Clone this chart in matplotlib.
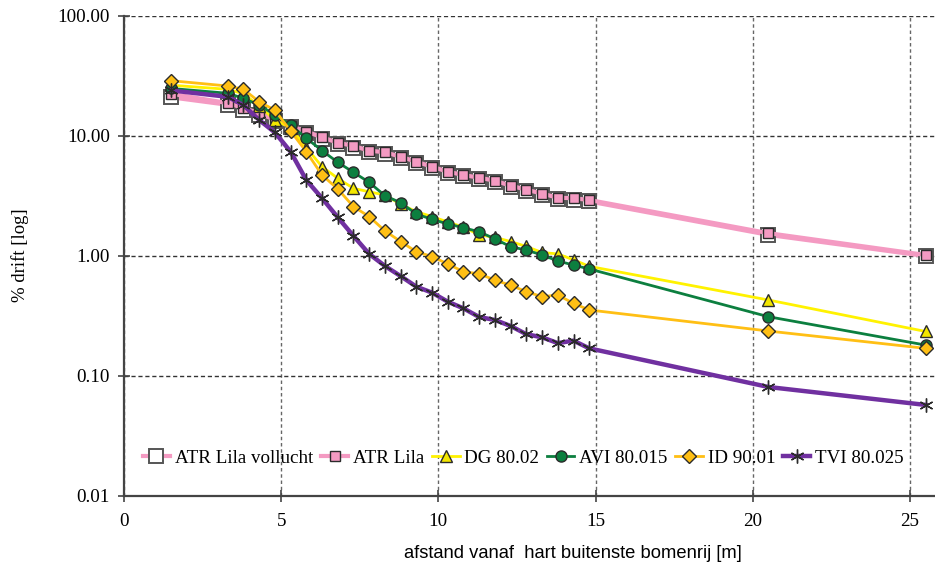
import matplotlib
matplotlib.use('Agg')
import matplotlib.pyplot as plt
from matplotlib.ticker import FixedLocator, FuncFormatter

# afstand tot hart buitenste bomenrij [m]
afstand = [1.5, 3.3, 3.8, 4.3, 4.8, 5.3, 5.8, 6.3, 6.8, 7.3, 7.8, 8.3, 8.8, 9.3,
           9.8, 10.3, 10.8, 11.3, 11.8, 12.3, 12.8, 13.3, 13.8, 14.3, 14.8, 20.5, 25.5]

# % drift per techniek
atr_vollucht = [21.0, 18.2, 16.6, 15.0, 13.3, 11.8, 10.6, 9.5, 8.6, 8.0, 7.4, 7.1,
                6.5, 6.0, 5.4, 4.95, 4.6, 4.35, 4.1, 3.75, 3.5, 3.22, 2.98, 2.95, 2.85, 1.50, 1.00]
atr_lila = [22.5, 18.8, 17.1, 15.5, 13.6, 12.1, 10.9, 9.75, 8.8, 8.26, 7.55, 7.32,
            6.72, 6.1, 5.55, 5.04, 4.73, 4.49, 4.24, 3.85, 3.57, 3.31, 3.06, 3.03, 2.93, 1.55, 1.02]
dg = [26.5, 24.5, 22.5, 17.8, 13.6, 11.7, 8.0, 5.55, 4.44, 3.66, 3.43, 3.22,
      2.70, 2.34, 2.13, 1.92, 1.74, 1.50, 1.43, 1.32, 1.20, 1.07, 1.04, 0.93, 0.82, 0.43, 0.235]
avi = [24.9, 22.7, 20.6, 18.1, 15.0, 12.3, 9.6, 7.55, 6.04, 4.98, 4.11, 3.18,
       2.78, 2.24, 2.02, 1.85, 1.72, 1.59, 1.39, 1.195, 1.12, 1.02, 0.91, 0.84, 0.78, 0.312, 0.181]
id_ = [28.9, 26.1, 24.5, 19.3, 16.4, 11.0, 7.4, 4.73, 3.62, 2.58, 2.13, 1.62,
       1.32, 1.085, 0.99, 0.858, 0.74, 0.71, 0.63, 0.57, 0.505, 0.458, 0.473, 0.403, 0.355, 0.237, 0.17]
tvi = [24.0, 21.2, 18.1, 13.6, 10.7, 7.4, 4.29, 3.03, 2.1, 1.47, 1.04, 0.826,
       0.68, 0.555, 0.495, 0.416, 0.366, 0.31, 0.293, 0.261, 0.223, 0.21, 0.188, 0.197, 0.17, 0.081, 0.0574]

y_ticks = [0.01, 0.1, 1, 10, 100]
x_ticks = [0, 5, 10, 15, 20, 25]

serif = ['Liberation Serif', 'DejaVu Serif']
edge = '#2b2b2b'

fig = plt.figure(figsize=(9.35, 5.7), dpi=100)
ax = fig.add_axes([124 / 935, 74 / 570, 811 / 935, 480 / 570])

ax.plot(afstand, atr_vollucht, color='#f49ac2', lw=3, marker='s', ms=10,
        mfc='white', mec='#555555', mew=1.4, label='ATR Lila vollucht', clip_on=False, zorder=3)
ax.plot(afstand, atr_lila, color='#f49ac2', lw=3, marker='s', ms=7,
        mfc='#f49ac2', mec=edge, mew=1.0, label='ATR Lila', clip_on=False, zorder=4)
ax.plot(afstand, dg, color='#fff200', lw=2, marker='^', ms=8.5,
        mfc='#f3e600', mec=edge, mew=1.0, label='DG 80.02', clip_on=False, zorder=5)
ax.plot(afstand, avi, color='#0c7f3f', lw=2, marker='o', ms=8,
        mfc='#0c7f3f', mec=edge, mew=1.0, label='AVI 80.015', clip_on=False, zorder=6)
ax.plot(afstand, id_, color='#ffbf14', lw=2, marker='D', ms=7.5,
        mfc='#ffbf14', mec=edge, mew=1.0, label='ID 90.01', clip_on=False, zorder=7)
ax.plot(afstand, tvi, color='#7030a0', lw=3.2, marker=(6, 2, 0), ms=10,
        mfc=edge, mec=edge, mew=1.0, label='TVI 80.025', clip_on=False, zorder=8)

ax.set_yscale('log')
ax.set_ylim(0.01, 100)
ax.set_xlim(0, 25.8)
ax.yaxis.set_major_locator(FixedLocator(y_ticks))
ax.yaxis.set_minor_locator(FixedLocator([]))
ax.yaxis.set_major_formatter(FuncFormatter(lambda v, p: f'{v:.2f}'))
ax.set_xticks(x_ticks)

ax.grid(axis='y', color='#333333', ls=(0, (3, 2)), lw=1.0)
ax.grid(axis='x', color='#666666', ls=(0, (2.5, 2)), lw=1.0)
ax.set_axisbelow(True)

for side in ['top', 'right']:
    ax.spines[side].set_visible(False)
ax.spines['left'].set_color('#444444')
ax.spines['left'].set_linewidth(1.6)
ax.spines['bottom'].set_color('#444444')
ax.spines['bottom'].set_linewidth(1.6)

ax.tick_params(direction='inout', length=8, width=1.2, color='#444444',
               labelsize=13.8, pad=6)
ax.tick_params(axis='x', pad=8)
for lab in ax.get_xticklabels() + ax.get_yticklabels():
    lab.set_family(serif)

leg = ax.legend(loc='center left', bbox_to_anchor=(0.023, 0.079), ncol=6,
                frameon=False, borderpad=0, borderaxespad=0, handlelength=1.45,
                handletextpad=0.25, columnspacing=0.4,
                prop={'family': serif, 'size': 13.7})

fig.text(20 / 935, 1 - 255 / 570, '% drift [log]', rotation=90, ha='center',
         va='center', family=serif, fontsize=13.5)
fig.text(573 / 935, 1 - 553 / 570, 'afstand vanaf  hart buitenste bomenrij [m]',
         ha='center', va='center', family=['Liberation Sans Narrow', 'Liberation Sans'],
         fontsize=13.2)

fig.savefig('out.png', dpi=100)
